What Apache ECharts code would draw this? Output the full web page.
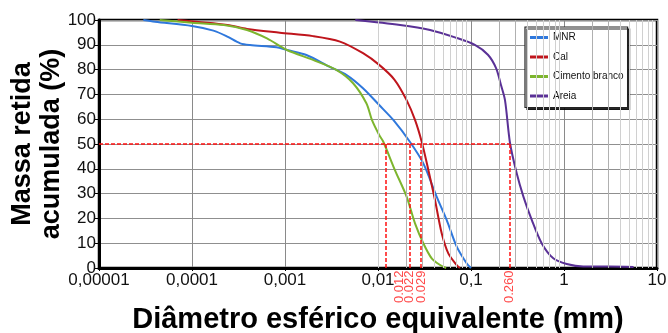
<!DOCTYPE html>
<html>
<head>
<meta charset="utf-8">
<script src="https://cdn.jsdelivr.net/npm/echarts@6/dist/echarts.min.js"></script>
<style>
  html, body { margin: 0; padding: 0; background: #fff; }
  #chart { width: 668px; height: 333px; }
</style>
</head>
<body>
<div id="chart"></div>
<script>
const FONT = 'Arial, "Liberation Sans", sans-serif';

// x tick labels for decades 1e-5 .. 10
const xTickLabels = ['0,00001', '0,0001', '0,001', '0,01', '0,1', '1', '10'];

// curves: particle size (mm) and cumulative retained mass (%)
const mnrSize = [0.00003, 0.00004, 0.0001, 0.00017, 0.00024, 0.00033, 0.00042, 0.00081, 0.00105, 0.0017, 0.003, 0.0046, 0.0069, 0.0103, 0.0146, 0.022, 0.0307, 0.0427, 0.0547, 0.0702, 0.0897, 0.1];
const mnrMass = [100, 99.3, 97.6, 95.7, 93.3, 90.6, 89.9, 89.0, 87.9, 85.9, 81.2, 77.8, 72.5, 65.7, 59.7, 50.9, 42.2, 28.8, 19.4, 8.6, 1.9, 0];

const calSize = [0.00007, 0.00024, 0.00039, 0.00088, 0.002, 0.0039, 0.0069, 0.0103, 0.015, 0.0203, 0.025, 0.0295, 0.0348, 0.041, 0.0484, 0.057, 0.0702, 0.076];
const calMass = [100, 98.0, 96.4, 94.9, 93.5, 91.3, 86.6, 81.9, 76, 67.7, 59.7, 50.9, 39.5, 27.4, 14.0, 5.9, 1.2, 0];

const cimentoSize = [0.000045, 0.0001, 0.00022, 0.00039, 0.00064, 0.00105, 0.002, 0.0036, 0.0054, 0.0075, 0.0086, 0.0103, 0.0114, 0.0152, 0.0203, 0.025, 0.0307, 0.0378, 0.0465, 0.054];
const cimentoMass = [100, 98.9, 98.0, 96.0, 92.6, 87.9, 83.9, 79.8, 74.5, 66.4, 59.7, 53.6, 50.9, 39.5, 28.8, 18.0, 10.0, 3.9, 1.2, 0];

const areiaSize = [0.0057, 0.0173, 0.0363, 0.0673, 0.11, 0.152, 0.186, 0.21, 0.232, 0.263, 0.31, 0.366, 0.45, 0.575, 0.767, 1.07, 1.61, 3.1, 5.6];
const areiaMass = [100, 98, 96, 93, 90, 86, 80.6, 73.8, 67.7, 50.3, 38.2, 28.8, 19.4, 10.0, 3.9, 1.6, 0.6, 0.6, 0.4];

// D50 markers
const d50Sizes = [0.012, 0.022, 0.029, 0.260];
const d50Labels = ['0.012', '0.022', '0.029', '0.260'];
const d50Mass = 50;

// log grid helpers
const decades = [0.00001, 0.0001, 0.001, 0.01, 0.1, 1];
const minorSteps = [2, 3, 4, 5, 6, 7, 8, 9];

const zip = (xs, ys) => xs.map((x, i) => [x, ys[i]]);

const minorLines = [];
for (const d of decades) {
    for (const m of minorSteps) {
        minorLines.push({
            xAxis: d * m,
            lineStyle: { color: m <= 3 ? '#b0b0b0' : '#d0d0d0', width: 1, type: 'solid' }
        });
    }
}

const redLines = [
    [{ coord: [0.00001, d50Mass] }, { coord: [d50Sizes[3], d50Mass] }],
    ...d50Sizes.map(v => [{ coord: [v, 0] }, { coord: [v, d50Mass] }])
];

const chart = echarts.init(document.getElementById('chart'), null, { renderer: 'canvas' });

function curve(name, color, xs, ys) {
    return {
        name,
        type: 'line',
        data: zip(xs, ys),
        showSymbol: false,
        smooth: 0.3,
        z: 4,
        lineStyle: { color, width: 2 },
        itemStyle: { color }
    };
}

chart.setOption({
    animation: false,
    textStyle: { fontFamily: FONT },
    grid: {
        left: 99, right: 11, top: 20, bottom: 65,
        outerBoundsMode: 'none',
        show: true,
        borderColor: '#000',
        borderWidth: 2.5,
        backgroundColor: 'transparent'
    },
    legend: {
        orient: 'vertical',
        left: 525,
        top: 27,
        padding: [4, 4, 5, 5],
        itemGap: 6.5,
        itemWidth: 18,
        itemHeight: 3,
        icon: 'rect',
        backgroundColor: '#fff',
        borderColor: '#222',
        borderWidth: 1.2,
        shadowColor: 'rgba(0,0,0,0.85)',
        shadowOffsetX: 2,
        shadowOffsetY: 2,
        shadowBlur: 0,
        textStyle: { fontSize: 10, color: '#111', fontFamily: FONT, lineHeight: 13 },
        data: ['MNR', 'Cal', 'Cimento branco', 'Areia']
    },
    xAxis: {
        type: 'log',
        logBase: 10,
        min: 0.00001,
        max: 10,
        name: 'Diâmetro esférico equivalente (mm)',
        nameLocation: 'middle',
        nameGap: 37,
        nameMoveOverlap: false,
        nameTextStyle: { fontSize: 29, fontWeight: 'bold', color: '#000', fontFamily: FONT },
        axisLine: { onZero: false, lineStyle: { color: '#000', width: 3 } },
        axisTick: { show: true, length: 3, lineStyle: { color: '#000' } },
        axisLabel: {
            fontSize: 17,
            color: '#111',
            margin: 4,
            formatter: v => xTickLabels[Math.round(Math.log10(v)) + 5]
        },
        splitLine: { show: true, lineStyle: { color: '#8a8a8a', width: 1 } }
    },
    yAxis: {
        type: 'value',
        min: 0,
        max: 100,
        interval: 10,
        name: 'Massa retida\nacumulada (%)',
        nameLocation: 'middle',
        nameRotate: 90,
        nameGap: 33,
        nameMoveOverlap: false,
        nameTextStyle: { fontSize: 27, fontWeight: 'bold', color: '#000', lineHeight: 29, fontFamily: FONT },
        axisLine: { show: true, lineStyle: { color: '#000', width: 3 } },
        axisTick: { show: true, length: 4, lineStyle: { color: '#000' } },
        axisLabel: { fontSize: 17, color: '#111', margin: 3 },
        splitLine: { show: true, lineStyle: { color: '#8f8f8f', width: 1.2 } }
    },
    series: [
        {
            name: 'grid-minor',
            type: 'line',
            data: [],
            silent: true,
            z: 1,
            markLine: {
                silent: true,
                symbol: 'none',
                animation: false,
                label: { show: false },
                lineStyle: { type: 'solid', color: '#d0d0d0', width: 1 },
                data: minorLines
            }
        },
        curve('MNR', '#2f78dc', mnrSize, mnrMass),
        curve('Cal', '#bf151c', calSize, calMass),
        curve('Cimento branco', '#7db52e', cimentoSize, cimentoMass),
        curve('Areia', '#5a3196', areiaSize, areiaMass),
        {
            name: 'd50',
            type: 'scatter',
            z: 5,
            symbolSize: 1,
            itemStyle: { color: 'transparent' },
            data: d50Sizes.map((v, i) => ({
                value: [v, 0],
                label: i === 0 ? { offset: [0, 14] } : undefined
            })),
            label: {
                show: true,
                position: 'bottom',
                distance: 2,
                rotate: 90,
                align: 'right',
                verticalAlign: 'middle',
                color: '#ff1a1a',
                fontSize: 13,
                fontFamily: FONT,
                formatter: p => d50Labels[p.dataIndex]
            },
            markLine: {
                silent: true,
                symbol: 'none',
                animation: false,
                label: { show: false },
                lineStyle: { color: '#ff1010', width: 1.5, type: [4, 2] },
                data: redLines
            }
        }
    ]
});
</script>
</body>
</html>
